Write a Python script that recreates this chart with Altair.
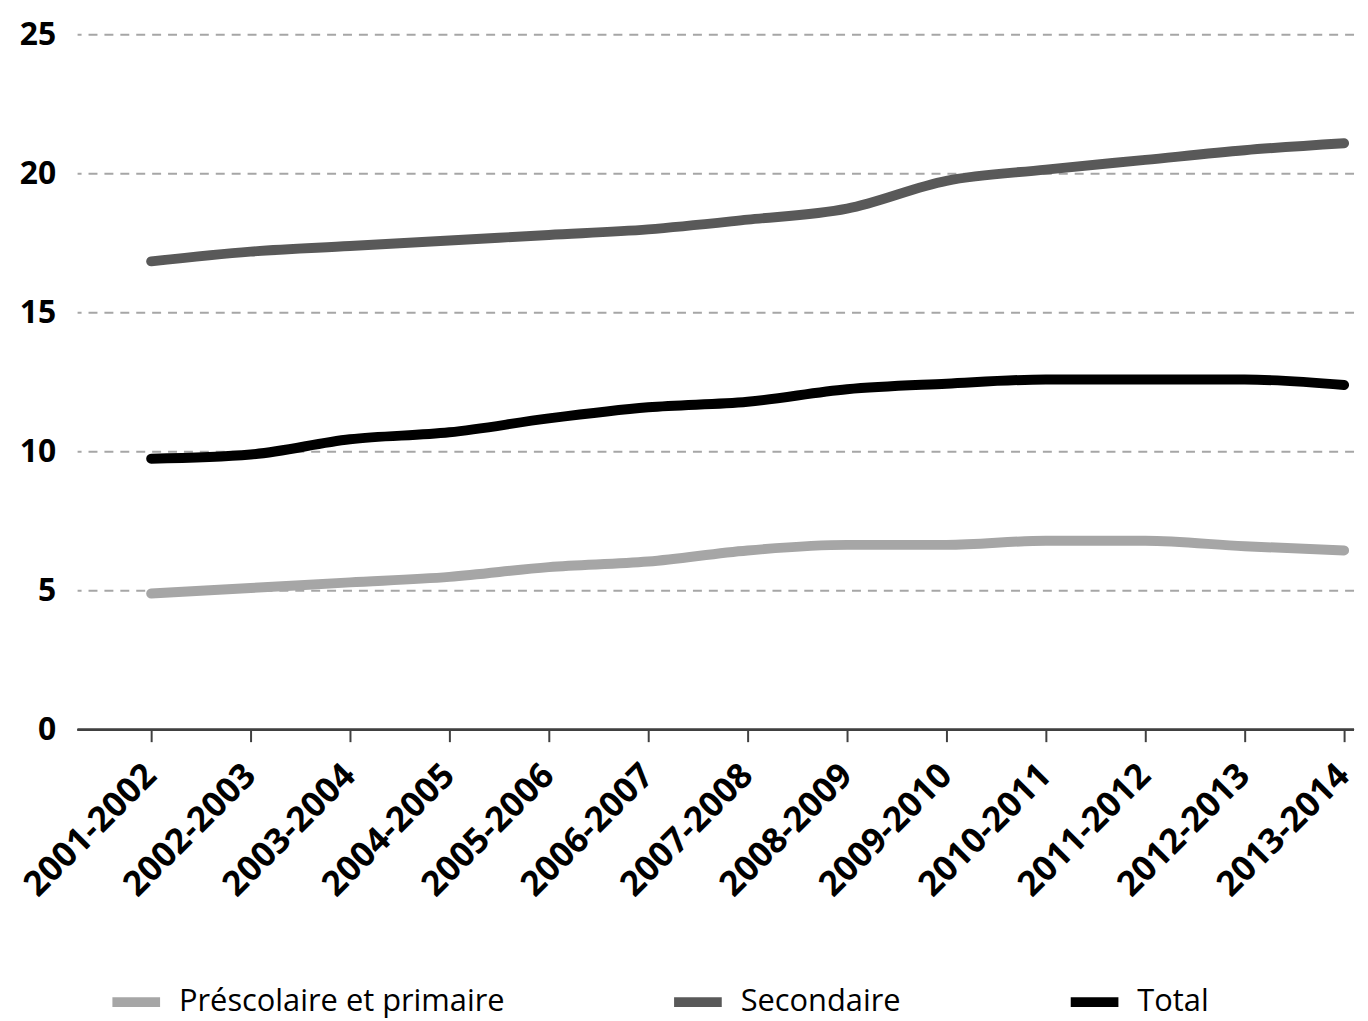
import altair as alt
import pandas as pd

years = ["2001-2002", "2002-2003", "2003-2004", "2004-2005", "2005-2006",
         "2006-2007", "2007-2008", "2008-2009", "2009-2010", "2010-2011",
         "2011-2012", "2012-2013", "2013-2014"]
series_names = ["Préscolaire et primaire", "Secondaire", "Total"]
prescolaire = [4.9, 5.1, 5.3, 5.5, 5.85, 6.05, 6.45, 6.65, 6.65, 6.8, 6.8, 6.6, 6.45]
secondaire = [16.85, 17.2, 17.4, 17.6, 17.8, 18.0, 18.35, 18.75, 19.75, 20.15, 20.5, 20.85, 21.1]
total = [9.75, 9.9, 10.45, 10.7, 11.2, 11.6, 11.8, 12.25, 12.45, 12.6, 12.6, 12.6, 12.4]
y_ticks = [0, 5, 10, 15, 20, 25]
colors = ["#a6a6a6", "#595959", "#000000"]

rows = []
for name, vals in zip(series_names, [prescolaire, secondaire, total]):
    for yr, v in zip(years, vals):
        rows.append({"annee": yr, "valeur": v, "serie": name, "ordre": series_names.index(name)})
df = pd.DataFrame(rows)
grid_df = pd.DataFrame({"valeur": y_ticks[1:]})

FONT = "Open Sans"

x_enc = alt.X("annee:N", sort=years,
              scale=alt.Scale(type="point", range=[74, 1274], padding=0),
              axis=alt.Axis(title=None, domain=False, ticks=True, tickSize=12,
                            tickColor="#404040", tickWidth=2, grid=False,
                            labelAngle=-45, labelAlign="right", labelBaseline="top",
                            labelPadding=16, labelOffset=-13, labelFont=FONT,
                            labelFontSize=35, labelFontWeight="bold",
                            labelColor="#000000"))
y_scale = alt.Scale(domain=[0, 25], nice=False, zero=True)
y_axis = alt.Axis(title=None, values=y_ticks, domain=False, ticks=False,
                  grid=False, labelFont=FONT, labelFontSize=32,
                  labelFontWeight="bold", labelColor="#000000",
                  labelPadding=22)

grid = alt.Chart(grid_df).mark_rule(color="#a6a6a6", strokeWidth=2,
                                    strokeDash=[9, 7]).encode(
    y=alt.Y("valeur:Q", scale=y_scale, axis=y_axis)
)

axis_rule = alt.Chart(grid_df).mark_rule(color="#404040", strokeWidth=2).encode(
    y=alt.datum(0)
)

lines = alt.Chart(df).mark_line(strokeWidth=10, strokeCap="round", strokeJoin="round",
                                interpolate="monotone").encode(
    x=x_enc,
    y=alt.Y("valeur:Q", scale=y_scale, axis=y_axis),
    color=alt.Color("serie:N", sort=series_names,
                    scale=alt.Scale(domain=series_names, range=colors),
                    legend=alt.Legend(title=None, orient="none", direction="horizontal",
                                      legendX=30, legendY=944,
                                      symbolType="stroke", symbolSize=2300,
                                      symbolStrokeWidth=10, labelFont=FONT,
                                      labelFontSize=31, labelColor="#000000",
                                      labelLimit=0, labelOffset=14,
                                      columnPadding=150)),
    detail="serie:N",
    order="ordre:Q",
)

chart = alt.layer(grid, axis_rule, lines).properties(
    width=1284,
    height=699,
    background="white",
    autosize=alt.AutoSizeParams(type="none"),
    padding={"left": 70, "top": 24, "right": 6, "bottom": 290},
).configure_view(stroke=None)

chart.save("out.html", embed_options={"renderer": "svg", "actions": False})
